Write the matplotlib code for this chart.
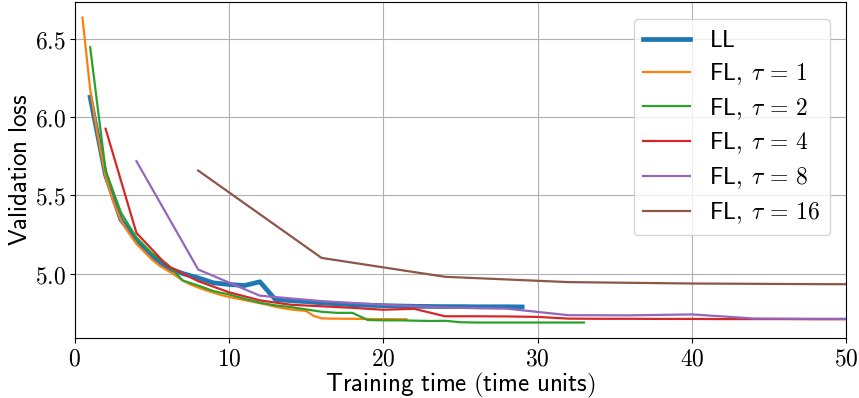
import matplotlib
matplotlib.use("Agg")
import matplotlib.pyplot as plt
from matplotlib.ticker import FuncFormatter

plt.rcParams["mathtext.fontset"] = "cm"
plt.rcParams["font.size"] = 17

# LL: evaluated every time unit
ll_time = list(range(1, 30))
ll_loss = [6.13, 5.63, 5.344, 5.217, 5.11, 5.036, 5.0, 4.972, 4.94, 4.93,
           4.923, 4.947, 4.834, 4.826, 4.82, 4.812, 4.806, 4.80, 4.797, 4.794,
           4.792, 4.79, 4.789, 4.788, 4.788, 4.787, 4.787, 4.787, 4.786]

# FL, tau = 1 (every 0.5 time units)
fl1_time = [0.5 * i for i in range(1, 44)]
fl1_loss = [6.64, 6.18, 5.88, 5.62, 5.46, 5.34, 5.26, 5.19, 5.14, 5.09,
            5.05, 5.02, 4.99, 4.955, 4.93, 4.91, 4.893, 4.877, 4.862, 4.85,
            4.84, 4.83, 4.82, 4.81, 4.80, 4.787, 4.778, 4.77, 4.765, 4.76,
            4.728, 4.713, 4.711, 4.711, 4.71, 4.71, 4.709, 4.709, 4.708, 4.708,
            4.708, 4.707, 4.707]

# FL, tau = 2
fl2_time = list(range(1, 34))
fl2_loss = [6.45, 5.66, 5.39, 5.23, 5.13, 5.06, 4.955, 4.923, 4.887, 4.866,
            4.838, 4.813, 4.796, 4.785, 4.77, 4.755, 4.748, 4.748, 4.702, 4.70,
            4.70, 4.698, 4.696, 4.697, 4.688, 4.686, 4.686, 4.686, 4.686, 4.686,
            4.686, 4.686, 4.686]

# FL, tau = 4
fl4_time = list(range(2, 54, 2))
fl4_loss = [5.928, 5.26, 5.05, 4.951, 4.88, 4.828, 4.80, 4.79, 4.78, 4.768,
            4.774, 4.726, 4.726, 4.725, 4.722, 4.711, 4.71, 4.71, 4.709, 4.709,
            4.708, 4.708, 4.708, 4.707, 4.707, 4.707]

# FL, tau = 8
fl8_time = list(range(4, 56, 4))
fl8_loss = [5.72, 5.026, 4.858, 4.823, 4.80, 4.782, 4.775, 4.733, 4.732, 4.738,
            4.712, 4.71, 4.71]

# FL, tau = 16
fl16_time = list(range(8, 64, 8))
fl16_loss = [5.66, 5.10, 4.979, 4.945, 4.936, 4.932, 4.93]

fig, ax = plt.subplots(figsize=(8.59, 3.98), dpi=100)
ax.plot(ll_time, ll_loss, color="C0", lw=3.4, label=r"$\mathsf{LL}$")
ax.plot(fl1_time, fl1_loss, color="C1", lw=1.6, label=r"$\mathsf{FL,}\;\tau\,=\,1$")
ax.plot(fl2_time, fl2_loss, color="C2", lw=1.6, label=r"$\mathsf{FL,}\;\tau\,=\,2$")
ax.plot(fl4_time, fl4_loss, color="C3", lw=1.6, label=r"$\mathsf{FL,}\;\tau\,=\,4$")
ax.plot(fl8_time, fl8_loss, color="C4", lw=1.6, label=r"$\mathsf{FL,}\;\tau\,=\,8$")
ax.plot(fl16_time, fl16_loss, color="C5", lw=1.6, label=r"$\mathsf{FL,}\;\tau\,=\,16$")

ax.set_xlim(0, 50)
ax.set_ylim(4.59, 6.74)
ax.set_xticks([0, 10, 20, 30, 40, 50])
ax.set_yticks([5.0, 5.5, 6.0, 6.5])
ax.xaxis.set_major_formatter(FuncFormatter(lambda v, p: r"$%d$" % v))
ax.yaxis.set_major_formatter(FuncFormatter(lambda v, p: r"$%.1f$" % v))
ax.tick_params(labelsize=17, pad=3)
ax.grid(True, color="#b0b0b0", lw=0.8)
ax.set_xlabel(r"$\mathsf{Training\ time\ (time\ units)}$", fontsize=18, labelpad=0)
ax.set_ylabel(r"$\mathsf{Validation\ loss}$", fontsize=18, labelpad=2)
ax.legend(loc="upper right", fontsize=17, handlelength=2.0,
          borderaxespad=0.7, labelspacing=0.38)

fig.subplots_adjust(left=0.087, right=0.985, top=0.995, bottom=0.152)
fig.savefig("out.png", dpi=100)
